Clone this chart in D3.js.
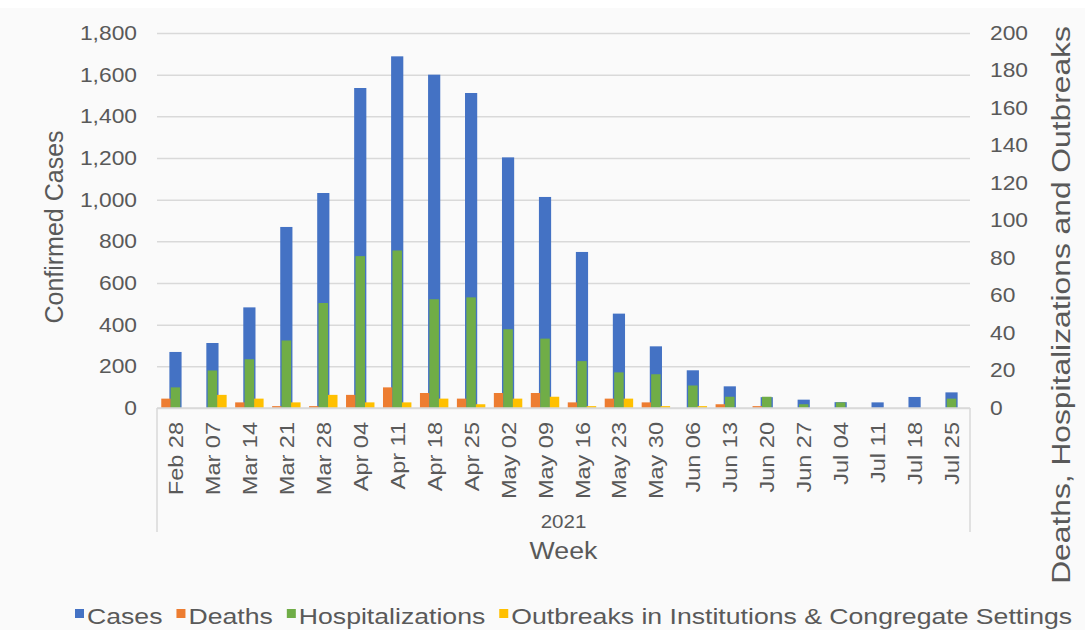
<!DOCTYPE html>
<html>
<head>
<meta charset="utf-8">
<script src="https://cdn.jsdelivr.net/npm/d3@7"></script>
<style>
  body { margin: 0; background: #ffffff; }
  svg { display: block; font-family: "Liberation Sans", Arial, sans-serif; }
</style>
</head>
<body>
<div id="chart"></div>
<script>
/* weekly data */
var weeks = ["Feb 28", "Mar 07", "Mar 14", "Mar 21", "Mar 28", "Apr 04", "Apr 11", "Apr 18",
             "Apr 25", "May 02", "May 09", "May 16", "May 23", "May 30", "Jun 06", "Jun 13",
             "Jun 20", "Jun 27", "Jul 04", "Jul 11", "Jul 18", "Jul 25"];
var cases = [269, 312, 483, 869, 1032, 1536, 1688, 1600, 1512, 1203, 1013, 749, 453, 296, 181, 104,
             52, 40, 28, 27, 53, 75];
var deaths = [5, 0, 3, 1, 1, 7, 11, 8, 5, 8, 8, 3, 5, 3, 0, 2, 1, 0, 0, 0, 0, 0];
var hospitalizations = [11, 20, 26, 36, 56, 81, 84, 58, 59, 42, 37, 25, 19, 18, 12, 6, 6, 2, 3, 0, 0, 5];
var outbreaks = [0, 7, 5, 3, 7, 3, 3, 5, 2, 5, 6, 1, 5, 1, 1, 0, 0, 0, 0, 0, 0, 0];

var leftTicks = [0, 200, 400, 600, 800, 1000, 1200, 1400, 1600, 1800];
var rightTicks = [0, 20, 40, 60, 80, 100, 120, 140, 160, 180, 200];
var year = "2021";
var seriesNames = ["Cases", "Deaths", "Hospitalizations", "Outbreaks in Institutions & Congregate Settings"];
var seriesColors = ["#4472c4", "#ed7d31", "#70ad47", "#ffc000"];

var width = 1085, height = 630;
var margin = {top: 33, right: 115, bottom: 222, left: 157};
var plotW = width - margin.left - margin.right,
    plotH = height - margin.top - margin.bottom;
var textColor = "#595959", gridColor = "#d9d9d9";

/* stretch text a little wider, the source font runs wide */
function widen(sel, k) {
    sel.each(function() {
        var l = this.getComputedTextLength();
        this.__natural = l;
        this.setAttribute("textLength", l * k);
        this.setAttribute("lengthAdjust", "spacingAndGlyphs");
    });
}

var svg = d3.select("#chart").append("svg")
    .attr("width", width)
    .attr("height", height);

svg.append("rect")
    .attr("x", 0).attr("y", 8)
    .attr("width", width).attr("height", height - 8)
    .attr("fill", "#fafafa");

var chart = svg.append("g")
    .attr("transform", "translate(" + margin.left + "," + margin.top + ")");

/* scales */
var x = d3.scaleBand().domain(weeks).range([0, plotW]).padding(0);
var yL = d3.scaleLinear().domain([0, 1800]).range([plotH, 0]);
var yR = d3.scaleLinear().domain([0, 200]).range([plotH, 0]);

var secKeys = ["Deaths", "Hospitalizations", "Outbreaks"];
var xs = d3.scaleBand().domain(secKeys).range([0, x.bandwidth()]).paddingInner(0).paddingOuter(0.45);
var casesW = x.bandwidth() * 0.33;

/* gridlines */
chart.append("g")
    .attr("class", "grid")
    .call(d3.axisLeft(yL).tickValues(leftTicks).tickSize(-plotW).tickFormat(""))
    .call(function(g) { g.select(".domain").remove(); })
    .selectAll("line")
        .attr("stroke", gridColor)
        .attr("stroke-width", 1.5);

/* cases bars (left axis) */
chart.append("g")
    .selectAll("rect")
    .data(cases)
    .enter().append("rect")
        .attr("x", function(d, i) { return x(weeks[i]) + (x.bandwidth() - casesW) / 2; })
        .attr("y", function(d) { return yL(d); })
        .attr("width", casesW)
        .attr("height", function(d) { return plotH - yL(d); })
        .attr("fill", seriesColors[0]);

/* deaths, hospitalizations, outbreaks (right axis) */
var secData = [deaths, hospitalizations, outbreaks];
secKeys.forEach(function(key, k) {
    chart.append("g")
        .selectAll("rect")
        .data(secData[k])
        .enter().append("rect")
            .attr("x", function(d, i) { return x(weeks[i]) + xs(key); })
            .attr("y", function(d) { return yR(d); })
            .attr("width", xs.bandwidth())
            .attr("height", function(d) { return plotH - yR(d); })
            .attr("fill", seriesColors[k + 1]);
});

/* baseline and category frame lines */
chart.append("line")
    .attr("x1", 0).attr("x2", plotW)
    .attr("y1", plotH).attr("y2", plotH)
    .attr("stroke", gridColor).attr("stroke-width", 1.5);
[0, plotW].forEach(function(px) {
    chart.append("line")
        .attr("x1", px).attr("x2", px)
        .attr("y1", plotH).attr("y2", plotH + 124)
        .attr("stroke", gridColor).attr("stroke-width", 1.5);
});

/* left axis */
var leftAxis = chart.append("g")
    .call(d3.axisLeft(yL).tickValues(leftTicks).tickSize(0).tickPadding(20).tickFormat(d3.format(",")));
leftAxis.select(".domain").remove();
leftAxis.selectAll("text")
    .attr("fill", textColor)
    .attr("font-size", 20)
    .call(widen, 1.14);

/* right axis */
var rightAxis = chart.append("g")
    .attr("transform", "translate(" + plotW + ",0)")
    .call(d3.axisRight(yR).tickValues(rightTicks).tickSize(0).tickPadding(20));
rightAxis.select(".domain").remove();
rightAxis.selectAll("text")
    .attr("fill", textColor)
    .attr("font-size", 20)
    .call(widen, 1.14);

/* category axis */
var xAxis = chart.append("g")
    .attr("transform", "translate(0," + plotH + ")")
    .call(d3.axisBottom(x).tickSize(0));
xAxis.select(".domain").remove();
xAxis.selectAll("text")
    .attr("fill", textColor)
    .attr("font-size", 21)
    .attr("x", -14)
    .attr("y", 0)
    .attr("dy", "0.36em")
    .attr("transform", "rotate(-90)")
    .style("text-anchor", "end")
    .call(widen, 1.12);

/* year label and axis titles */
chart.append("text")
    .attr("x", plotW / 2)
    .attr("y", plotH + 120)
    .attr("text-anchor", "middle")
    .attr("font-size", 18)
    .attr("fill", textColor)
    .text(year)
    .call(widen, 1.14);

chart.append("text")
    .attr("x", plotW / 2)
    .attr("y", plotH + 151)
    .attr("text-anchor", "middle")
    .attr("font-size", 23)
    .attr("fill", textColor)
    .text("Week")
    .call(widen, 1.16);

svg.append("text")
    .attr("transform", "translate(63," + (margin.top + 194) + ")rotate(-90)")
    .attr("text-anchor", "middle")
    .attr("font-size", 25)
    .attr("fill", textColor)
    .text("Confirmed Cases");

svg.append("text")
    .attr("transform", "translate(1070,305)rotate(-90)")
    .attr("text-anchor", "middle")
    .attr("font-size", 25)
    .attr("fill", textColor)
    .text("Deaths, Hospitalizations and Outbreaks")
    .call(widen, 1.27);

/* legend */
var legend = svg.append("g").attr("class", "legend");
var lx = 75, ly = 624, legendStretch = 1.21;
seriesNames.forEach(function(name, i) {
    legend.append("rect")
        .attr("x", lx).attr("y", ly - 15)
        .attr("width", 9).attr("height", 9)
        .attr("fill", seriesColors[i]);
    var t = legend.append("text")
        .attr("x", lx + 12).attr("y", ly)
        .attr("font-size", 22)
        .attr("fill", textColor)
        .text(name)
        .call(widen, legendStretch);
    lx += 12 + t.node().__natural * legendStretch + 14;
});
</script>
</body>
</html>
